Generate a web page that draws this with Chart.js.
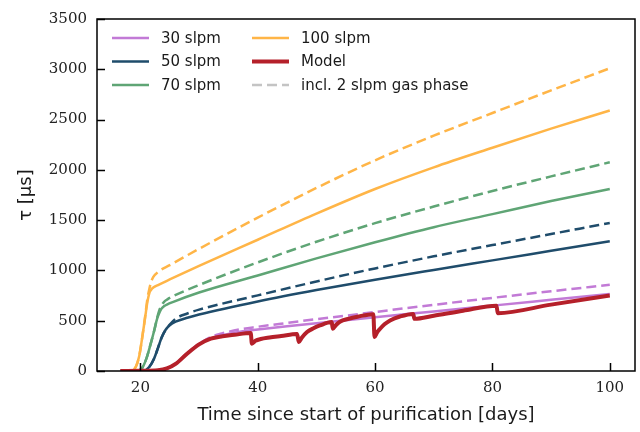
<!DOCTYPE html>
<html>
<head>
<meta charset="utf-8">
<title>Electron lifetime during purification</title>
<script src="https://cdn.jsdelivr.net/npm/chart.js@4.4.1/dist/chart.umd.min.js"></script>
<style>
    html, body { margin: 0; padding: 0; background: #fff; }
    #wrap { width: 640px; height: 432px; }
</style>
</head>
<body>
<div id="wrap"><canvas id="tau-chart" width="640" height="432"></canvas></div>
<script>
'use strict';

// Values (days, tau in microseconds).
var days30 = [16.6, 23, 24.5, 26, 28, 30, 32, 34, 37, 40, 45, 50, 55, 60, 70, 80, 90, 100];
var tau30 = [0, 8, 25, 72, 176, 268, 324, 355, 390, 412, 445, 475, 505, 535, 592, 650, 708, 766];
var tau30Gas = [0, 8, 25, 72, 176, 270, 338, 375, 415, 440, 478, 515, 550, 587, 658, 727, 793, 857];

var days50 = [16.6, 20.5, 21.5, 22.3, 23, 23.6, 24.3, 25, 26, 28, 30, 40, 50, 60, 70, 80, 90, 100];
var tau50 = [0, 3, 40, 120, 230, 330, 410, 455, 490, 530, 562, 692, 805, 908, 1005, 1100, 1195, 1290];
var tau50Gas = [0, 3, 40, 120, 230, 330, 410, 462, 520, 572, 610, 752, 890, 1020, 1140, 1252, 1362, 1472];

var days70 = [16.6, 19.5, 20.3, 21, 21.7, 22.3, 22.9, 23.2, 23.6, 24.0, 24.6, 25.5, 30, 40, 50, 60, 70, 80, 90, 100];
var tau70 = [0, 3, 30, 120, 260, 390, 530, 575, 620, 643, 663, 685, 780, 950, 1120, 1280, 1430, 1560, 1690, 1810];
var tau70Gas = [0, 3, 30, 120, 260, 390, 540, 600, 652, 685, 712, 742, 855, 1080, 1285, 1470, 1635, 1790, 1935, 2075];

var days100 = [16.6, 18.5, 19.2, 19.8, 20.3, 20.8, 21.2, 21.5, 21.8, 22.2, 23, 25, 30, 40, 50, 60, 70, 80, 90, 100];
var tau100 = [0, 5, 40, 150, 330, 530, 690, 770, 805, 830, 855, 910, 1045, 1305, 1565, 1810, 2025, 2220, 2410, 2590];
var tau100Gas = [0, 5, 40, 150, 330, 540, 720, 810, 880, 935, 985, 1052, 1215, 1525, 1820, 2095, 2340, 2565, 2790, 3010];

var daysModel = [16.6, 20, 23, 24.5, 26, 28, 30, 32, 34, 36, 38.8, 39.0, 39.6, 40.5, 42, 44, 46.7,
    47.0, 47.5, 48.4, 49.5, 50.6, 52.6, 52.8, 53.3, 54.0, 55.5, 57, 59.7, 59.9, 60.3, 60.85, 61.6,
    62.55, 64.25, 66.5, 66.7, 70, 75, 80.7, 80.9, 90, 100];
var tauModel = [0, 2, 8, 25, 70, 174, 265, 322, 345, 360, 378, 272, 300, 318, 333, 348, 368,
    288, 330, 387, 425, 453, 486, 420, 455, 490, 520, 540, 565, 338, 380, 420, 465,
    503, 542, 568, 519, 550, 600, 650, 575, 660, 750];

var xTicks = [20, 40, 60, 80, 100];
var yTicks = [0, 500, 1000, 1500, 2000, 2500, 3000, 3500];

var COLORS = {
    c30: '#c27ad6',
    c50: '#1f4c6b',
    c70: '#5fa575',
    c100: '#ffb547',
    model: '#b5202a',
    gas: '#c4c4c4'
};
var DASH = [10, 5];
var SANS = '"DejaVu Sans", sans-serif';

/**
 * Pair day and tau arrays into {x, y} points.
 */
function toPoints(days, tau) {
    return days.map(function(d, i) {
        return { x: d, y: tau[i] };
    });
}

/**
 * Build one line dataset.
 */
function lineDataset(label, days, tau, color, dashed, width, order) {
    return {
        label: label,
        data: toPoints(days, tau),
        borderColor: color,
        borderWidth: width,
        borderDash: dashed ? DASH : [],
        borderCapStyle: 'butt',
        borderJoinStyle: 'round',
        pointRadius: 0,
        fill: false,
        cubicInterpolationMode: 'monotone',
        order: order
    };
}

/**
 * Legend drawn in two columns inside the plot, like the reference.
 */
var legendPlugin = {
    id: 'twoColLegend',
    afterDatasetsDraw: function(chart) {
        var ctx = chart.ctx;
        var items = [
            { text: '30 slpm', color: COLORS.c30, col: 0, row: 0 },
            { text: '50 slpm', color: COLORS.c50, col: 0, row: 1 },
            { text: '70 slpm', color: COLORS.c70, col: 0, row: 2 },
            { text: '100 slpm', color: COLORS.c100, col: 1, row: 0 },
            { text: 'Model', color: COLORS.model, col: 1, row: 1, width: 4 },
            { text: 'incl. 2 slpm gas phase', color: COLORS.gas, col: 1, row: 2, dashed: true }
        ];
        var colX = [112, 252];
        var rowY = [38, 61.5, 85];

        ctx.save();
        ctx.font = '15px ' + SANS;
        ctx.textBaseline = 'middle';
        ctx.fillStyle = '#1a1a1a';
        items.forEach(function(it) {
            var x = colX[it.col];
            var y = rowY[it.row];
            ctx.beginPath();
            ctx.strokeStyle = it.color;
            ctx.lineWidth = it.width || 2.5;
            ctx.setLineDash(it.dashed ? DASH : []);
            ctx.moveTo(x, y);
            ctx.lineTo(x + 37, y);
            ctx.stroke();
            ctx.fillText(it.text, x + 49, y + 1);
        });
        ctx.restore();
    }
};

/**
 * Black frame round the plot with inward tick marks.
 */
var framePlugin = {
    id: 'frameTicks',
    afterDraw: function(chart) {
        var ctx = chart.ctx;
        var a = chart.chartArea;
        var xs = chart.scales.x;
        var ys = chart.scales.y;

        ctx.save();
        ctx.strokeStyle = '#000';
        ctx.lineWidth = 1.5;
        ctx.setLineDash([]);
        ctx.strokeRect(a.left, a.top, a.right - a.left, a.bottom - a.top);

        ctx.beginPath();
        xTicks.forEach(function(v) {
            var px = Math.round(xs.getPixelForValue(v)) + 0.5;
            ctx.moveTo(px, a.bottom);
            ctx.lineTo(px, a.bottom - 8);
        });
        yTicks.forEach(function(v) {
            var py = Math.round(ys.getPixelForValue(v)) + 0.5;
            ctx.moveTo(a.left, py);
            ctx.lineTo(a.left + 8, py);
        });
        ctx.stroke();
        ctx.restore();
    }
};

function initChart() {
    var canvas = document.getElementById('tau-chart');
    var ctx = canvas.getContext('2d');

    // Red model on top, solid lines above their dashed twins.
    var datasets = [
        lineDataset('Model', daysModel, tauModel, COLORS.model, false, 4, 0),
        lineDataset('30 slpm', days30, tau30, COLORS.c30, false, 2.5, 2),
        lineDataset('30 slpm gas', days30, tau30Gas, COLORS.c30, true, 2.5, 3),
        lineDataset('50 slpm', days50, tau50, COLORS.c50, false, 2.5, 2),
        lineDataset('50 slpm gas', days50, tau50Gas, COLORS.c50, true, 2.5, 3),
        lineDataset('70 slpm', days70, tau70, COLORS.c70, false, 2.5, 2),
        lineDataset('70 slpm gas', days70, tau70Gas, COLORS.c70, true, 2.5, 3),
        lineDataset('100 slpm', days100, tau100, COLORS.c100, false, 2.5, 2),
        lineDataset('100 slpm gas', days100, tau100Gas, COLORS.c100, true, 2.5, 3)
    ];

    var tickFont = { family: '"DejaVu Serif", serif', size: 15 };
    var titleFont = { family: SANS, size: 18 };

    new Chart(ctx, {
        type: 'line',
        data: { datasets: datasets },
        options: {
            responsive: false,
            animation: false,
            layout: { padding: { left: 0, top: 16, right: 5, bottom: 0 } },
            plugins: {
                legend: { display: false },
                tooltip: { enabled: false }
            },
            scales: {
                x: {
                    type: 'linear',
                    min: 12.6,
                    max: 104.3,
                    afterBuildTicks: function(scale) {
                        scale.ticks = xTicks.map(function(v) { return { value: v }; });
                    },
                    afterFit: function(scale) { scale.height = 61; },
                    grid: { display: false, drawTicks: false },
                    border: { display: false },
                    ticks: {
                        color: '#222', font: tickFont, padding: 8, maxRotation: 0,
                        callback: function(v) { return String(v); }
                    },
                    title: {
                        display: true,
                        text: 'Time since start of purification [days]',
                        color: '#1a1a1a',
                        font: titleFont,
                        padding: { top: 0, bottom: 6 }
                    }
                },
                y: {
                    type: 'linear',
                    min: 0,
                    max: 3500,
                    afterBuildTicks: function(scale) {
                        scale.ticks = yTicks.map(function(v) { return { value: v }; });
                    },
                    afterFit: function(scale) { scale.width = 97; },
                    grid: { display: false, drawTicks: false },
                    border: { display: false },
                    ticks: {
                        color: '#222', font: tickFont, padding: 10,
                        callback: function(v) { return String(v); }
                    },
                    title: {
                        display: true,
                        text: 'τ [µs]',
                        color: '#1a1a1a',
                        font: titleFont,
                        padding: { top: 16, bottom: 0 }
                    }
                }
            }
        },
        plugins: [legendPlugin, framePlugin]
    });
}

initChart();
</script>
</body>
</html>
